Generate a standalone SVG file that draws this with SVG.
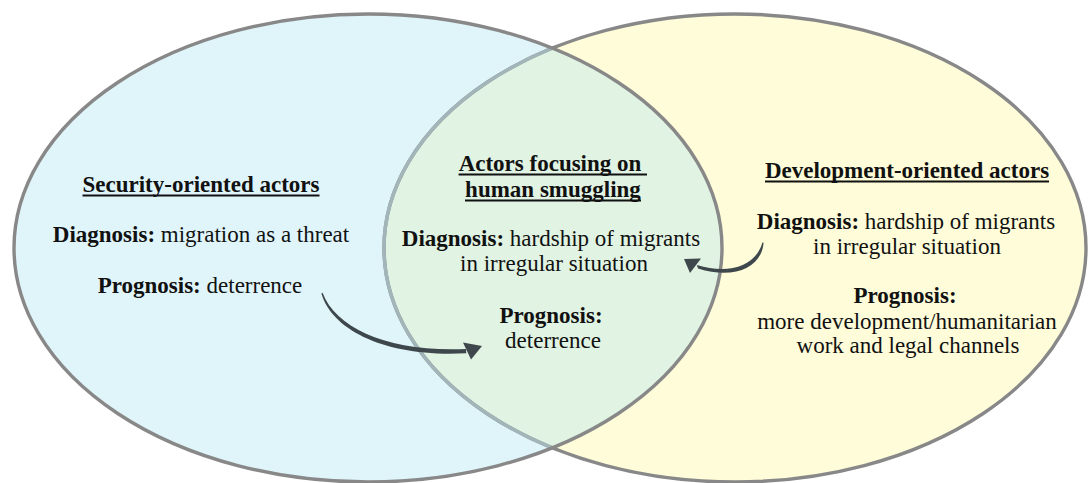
<svg xmlns="http://www.w3.org/2000/svg" width="1089" height="483" viewBox="0 0 1089 483">
  <defs>
    <clipPath id="clip-left">
      <ellipse cx="368" cy="248" rx="354" ry="234"/>
    </clipPath>
    <style>
      text { font-family: 'Liberation Serif', 'DejaVu Serif', serif; font-size: 23px; fill: #111; text-anchor: middle; }
      .b { font-weight: bold; }
      .ul { stroke: #111; stroke-width: 1.8; }
      .edge { fill: none; stroke: #888888; stroke-width: 3.4; }
      .arrow { fill: #3e484c; }
    </style>
  </defs>

  <rect width="1089" height="483" fill="#ffffff"/>

  <!-- circle fills -->
  <g id="fills">
    <ellipse cx="368" cy="248" rx="354" ry="234" fill="#e0f5fa"/>
    <ellipse cx="735" cy="248" rx="351" ry="234" fill="#fefcd9"/>
    <ellipse cx="735" cy="248" rx="351" ry="234" fill="#e1f3e3" clip-path="url(#clip-left)"/>
  </g>

  <!-- circle outlines -->
  <g id="outlines">
    <ellipse class="edge" cx="735" cy="248" rx="351" ry="234"/>
    <ellipse cx="735" cy="248" rx="351" ry="234" fill="none" stroke="#a2b6ba" stroke-width="3.4" clip-path="url(#clip-left)"/>
    <ellipse class="edge" cx="368" cy="248" rx="354" ry="234"/>
  </g>

  <!-- left set -->
  <g id="security">
    <text class="b" x="201" y="192">Security-oriented actors</text>
    <line class="ul" x1="82.5" y1="195.5" x2="319.5" y2="195.5"/>
    <text x="201" y="242"><tspan class="b">Diagnosis:</tspan> migration as a threat</text>
    <text x="200" y="293"><tspan class="b">Prognosis:</tspan> deterrence</text>
  </g>

  <!-- overlap -->
  <g id="smuggling">
    <text class="b" x="550" y="171">Actors focusing on</text>
    <line class="ul" x1="458.6" y1="174.5" x2="647" y2="174.5"/>
    <text class="b" x="553" y="197">human smuggling</text>
    <line class="ul" x1="465" y1="200.5" x2="641" y2="200.5"/>
    <text x="551" y="246"><tspan class="b">Diagnosis:</tspan> hardship of migrants</text>
    <text x="554" y="271">in irregular situation</text>
    <text class="b" x="551" y="323">Prognosis:</text>
    <text x="553" y="348">deterrence</text>
  </g>

  <!-- right set -->
  <g id="development">
    <text class="b" x="907" y="178">Development-oriented actors</text>
    <line class="ul" x1="765" y1="181.5" x2="1049" y2="181.5"/>
    <text x="906" y="229"><tspan class="b">Diagnosis:</tspan> hardship of migrants</text>
    <text x="907" y="254">in irregular situation</text>
    <text class="b" x="905" y="303">Prognosis:</text>
    <text x="907" y="329">more development/humanitarian</text>
    <text x="908" y="353">work and legal channels</text>
  </g>

  <!-- tapered curved arrows -->
  <g id="connectors">
    <path class="arrow" d="M322.6,292.8 C336,329 390,352.5 466,349 L466.3,353.2 C389,357.5 332.5,331.5 321.4,293.4 Z"/>
    <polygon class="arrow" points="482,346 463,342.5 471,359.5"/>
    <path class="arrow" d="M763.6,242.8 C762,266 736,280.5 698,268.6 L696.8,265 C733,276 757,263 762.4,242.6 Z"/>
    <polygon class="arrow" points="684,259 701,258.5 690,273"/>
  </g>
</svg>
